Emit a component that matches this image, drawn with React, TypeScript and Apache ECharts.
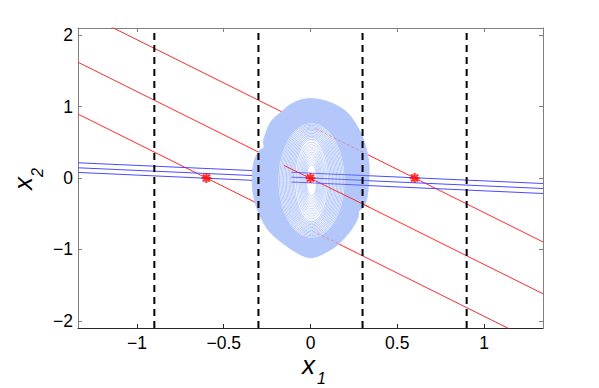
import React, { useEffect, useRef } from 'react';
import * as echarts from 'echarts';

// axis extents and ticks
const X_MIN = -1.34;
const X_MAX = 1.34;
const Y_MIN = -2.1;
const Y_MAX = 2.1;
const X_TICKS = [-1, -0.5, 0, 0.5, 1];
const Y_TICKS = [-2, -1, 0, 1, 2];

// vertical dashed lines
const DASHED_X = [-0.9, -0.3, 0.3, 0.9];

// red parallel lines: y at the left edge and at the right edge
const RED_LEFT_Y = [0.895, 1.621, 2.347];
const RED_RIGHT_Y = [-2.347, -1.621, -0.895];

// blue nearly-horizontal lines: y at the left edge and at the right edge
const BLUE_LEFT_Y = [0.213, 0.143, 0.078];
const BLUE_RIGHT_Y = [-0.077, -0.147, -0.217];

// visible pieces of the lines inside the blob
const RED_OVER_X = [-0.152, 0.34];
const RED_OVER_Y = [0.175, -0.41];
const RED_FAINT_A_X = [0.03, 0.32];
const RED_FAINT_A_Y = [0.69, 0.339];
const RED_FAINT_B_X = [0.04, 0.27];
const RED_FAINT_B_Y = [-0.774, -1.05];
const BLUE_OVER_X = [-0.11, 0.34];
const BLUE_OVER_LEFT_Y = [0.08, 0.012, -0.056];
const BLUE_OVER_RIGHT_Y = [0.031, -0.037, -0.105];

// equilibrium points (stars)
const STAR_X = [-0.6, 0, 0.6];
const STAR_Y = [0, 0, 0];

// outline of the blue trajectory blob
const BLOB_X = [0, 0.115, 0.212, 0.279, 0.317, 0.336, 0.336, 0.327, 0.308, 0.279, 0.269, 0.221, 0.15, 0.069, 0.006, -0.058, -0.154, -0.241, -0.298, -0.327, -0.336, -0.327, -0.298, -0.269, -0.269, -0.231, -0.173, -0.096];
const BLOB_Y = [1.112, 1.055, 0.914, 0.68, 0.446, 0.213, -0.021, -0.255, -0.396, -0.466, -0.582, -0.769, -0.947, -1.066, -1.115, -1.073, -0.923, -0.736, -0.488, -0.255, -0.021, 0.213, 0.376, 0.424, 0.54, 0.774, 0.914, 1.055];

// orbit rings (semi-axes) and their centre
const RING_CENTER = [0.006, -0.035];
const HOLE_RX = 0.19;
const HOLE_RY = 0.8;
const OUTER_RING_RX = [0.185, 0.177, 0.169, 0.161, 0.153, 0.145, 0.137, 0.129, 0.121, 0.113, 0.105, 0.097];
const OUTER_RING_RY = [0.79, 0.772, 0.754, 0.736, 0.718, 0.7, 0.68, 0.66, 0.64, 0.62, 0.6, 0.575];
const INNER_RING_RX = [0.087, 0.079, 0.071, 0.064, 0.057, 0.051, 0.045, 0.039, 0.034, 0.029];
const INNER_RING_RY = [0.535, 0.5, 0.465, 0.43, 0.395, 0.36, 0.325, 0.29, 0.255, 0.22];

const BLOB_COLOR = '#b3c7fa';
const FONT = '"Liberation Sans", Arial, Helvetica, sans-serif';

const fmt = (v: number) => (v < 0 ? '\u2212' + String(Math.abs(v)) : String(v));

function ellipsePoints(c: number[], w: number, h: number) {
  const pts: number[][] = [];
  const n = 72;
  for (let k = 0; k < n; k++) {
    const t = (k / n) * Math.PI * 2;
    pts.push([c[0] + w * Math.cos(t), c[1] + h * Math.sin(t)]);
  }
  return pts;
}

// closed Catmull-Rom curve through pixel points (rendering helper)
function closedSpline(p: number[][], steps: number) {
  const out: number[][] = [];
  const n = p.length;
  for (let i = 0; i < n; i++) {
    const p0 = p[(i - 1 + n) % n];
    const p1 = p[i];
    const p2 = p[(i + 1) % n];
    const p3 = p[(i + 2) % n];
    for (let s = 0; s < steps; s++) {
      const t = s / steps;
      const t2 = t * t;
      const t3 = t2 * t;
      const f = (a: number, b: number, c: number, d: number) =>
        0.5 * (2 * b + (-a + c) * t + (2 * a - 5 * b + 4 * c - d) * t2 + (-a + 3 * b - 3 * c + d) * t3);
      out.push([f(p0[0], p1[0], p2[0], p3[0]), f(p0[1], p1[1], p2[1], p3[1])]);
    }
  }
  return out;
}

function seg(xs: number[], ys: number[]) {
  return xs.map((x, i) => [x, ys[i]]);
}

export default function App() {
  const ref = useRef<HTMLDivElement>(null);

  useEffect(() => {
    if (!ref.current) return;
    const chart = echarts.init(ref.current, null, { renderer: 'svg' });

    const series: any[] = [];

    DASHED_X.forEach((x) => {
      series.push({
        type: 'line',
        data: [[x, Y_MIN], [x, Y_MAX]],
        symbol: 'none',
        lineStyle: { color: '#000', width: 2, type: [7, 5] },
        z: 6,
        silent: true,
      });
    });

    RED_LEFT_Y.forEach((y, i) => {
      series.push({
        type: 'line',
        data: [[X_MIN, y], [X_MAX, RED_RIGHT_Y[i]]],
        symbol: 'none',
        clip: true,
        lineStyle: { color: '#ff2a2a', width: 1 },
        z: 2,
        silent: true,
      });
    });

    BLUE_LEFT_Y.forEach((y, i) => {
      series.push({
        type: 'line',
        data: [[X_MIN, y], [X_MAX, BLUE_RIGHT_Y[i]]],
        symbol: 'none',
        clip: true,
        lineStyle: { color: '#4a4aff', width: 1 },
        z: 2,
        silent: true,
      });
    });

    // blob
    series.push({
      type: 'custom',
      data: [[0, 0]],
      z: 4,
      silent: true,
      clip: true,
      renderItem: (params: any, api: any) => {
        const outline = closedSpline(BLOB_X.map((x, i) => api.coord([x, BLOB_Y[i]])), 8);
        const c = api.coord(RING_CENTER);
        const holeSize = api.size([HOLE_RX, HOLE_RY]);
        const children: any[] = [
          {
            type: 'polygon',
            shape: { points: outline },
            style: { fill: BLOB_COLOR, stroke: BLOB_COLOR, lineWidth: 1 },
          },
          {
            type: 'polygon',
            shape: { points: ellipsePoints(c, holeSize[0], holeSize[1]) },
            style: { fill: '#ffffff', stroke: 'none' },
          },
        ];
        OUTER_RING_RX.forEach((rx, i) => {
          const s = api.size([rx, OUTER_RING_RY[i]]);
          children.push({
            type: 'polygon',
            shape: { points: ellipsePoints(c, s[0], s[1]) },
            style: { fill: 'none', stroke: BLOB_COLOR, lineWidth: 1 },
          });
        });
        INNER_RING_RX.forEach((rx, i) => {
          const s = api.size([rx, INNER_RING_RY[i]]);
          children.push({
            type: 'polygon',
            shape: { points: ellipsePoints(c, s[0], s[1]) },
            style: { fill: 'none', stroke: BLOB_COLOR, lineWidth: 0.8 },
          });
        });
        return { type: 'group', children };
      },
    });

    // visible line pieces over the blob
    series.push({
      type: 'line',
      data: seg(RED_OVER_X, RED_OVER_Y),
      symbol: 'none',
      lineStyle: { color: '#ff2a2a', width: 1 },
      z: 5,
      silent: true,
    });
    [seg(RED_FAINT_A_X, RED_FAINT_A_Y), seg(RED_FAINT_B_X, RED_FAINT_B_Y)].forEach((d) => {
      series.push({
        type: 'line',
        data: d,
        symbol: 'none',
        lineStyle: { color: '#ff5a5a', width: 1, opacity: 0.55, type: [3, 2] },
        z: 5,
        silent: true,
      });
    });
    BLUE_OVER_LEFT_Y.forEach((y, i) => {
      series.push({
        type: 'line',
        data: [[BLUE_OVER_X[0], y], [BLUE_OVER_X[1], BLUE_OVER_RIGHT_Y[i]]],
        symbol: 'none',
        lineStyle: { color: '#4a4aff', width: 1, opacity: 0.8 },
        z: 5,
        silent: true,
      });
    });

    series.push({
      type: 'scatter',
      data: seg(STAR_X, STAR_Y),
      symbol: 'path://M5,0L5,10M0,5L10,5M1.5,1.5L8.5,8.5M1.5,8.5L8.5,1.5',
      symbolSize: 10,
      itemStyle: { color: '#ff0000', borderColor: '#ff0000', borderWidth: 2.2 },
      z: 7,
      silent: true,
    });

    const tickLabel = {
      fontSize: 17.5,
      color: '#000',
      fontFamily: FONT,
      formatter: fmt,
    };

    chart.setOption({
      animation: false,
      backgroundColor: '#fff',
      grid: { left: 78, right: 56, top: 28, bottom: 60 },
      xAxis: [
        {
          type: 'value',
          min: X_MIN,
          max: X_MAX,
          position: 'bottom',
          axisLine: { onZero: false, lineStyle: { color: '#262626', width: 1 } },
          axisTick: { inside: true, length: 4, customValues: X_TICKS, lineStyle: { color: '#262626' } },
          axisLabel: { ...tickLabel, margin: 6, customValues: X_TICKS },
          splitLine: { show: false },
        },
        {
          type: 'value',
          min: X_MIN,
          max: X_MAX,
          position: 'top',
          axisLine: { onZero: false, lineStyle: { color: '#808080', width: 1 } },
          axisTick: { inside: true, length: 4, customValues: X_TICKS, lineStyle: { color: '#808080' } },
          axisLabel: { show: false },
          splitLine: { show: false },
        },
      ],
      yAxis: [
        {
          type: 'value',
          min: Y_MIN,
          max: Y_MAX,
          position: 'left',
          axisLine: { show: true, onZero: false, lineStyle: { color: '#808080', width: 1 } },
          axisTick: { show: true, inside: true, length: 4, customValues: Y_TICKS, lineStyle: { color: '#808080' } },
          axisLabel: { ...tickLabel, margin: 5, customValues: Y_TICKS },
          splitLine: { show: false },
        },
        {
          type: 'value',
          min: Y_MIN,
          max: Y_MAX,
          position: 'right',
          axisLine: { show: true, onZero: false, lineStyle: { color: '#808080', width: 1 } },
          axisTick: { show: true, inside: true, length: 4, customValues: Y_TICKS, lineStyle: { color: '#808080' } },
          axisLabel: { show: false },
          splitLine: { show: false },
        },
      ],
      graphic: [
        {
          type: 'text',
          x: 302,
          y: 365,
          style: { text: 'x', font: 'italic 26px ' + FONT, fill: '#000', verticalAlign: 'middle', align: 'left' },
        },
        {
          type: 'text',
          x: 317,
          y: 378,
          style: { text: '1', font: 'italic 16px ' + FONT, fill: '#000', verticalAlign: 'middle', align: 'left' },
        },
        {
          type: 'group',
          x: 32,
          y: 190,
          rotation: Math.PI / 2,
          children: [
            {
              type: 'text',
              x: 0,
              y: -9,
              style: { text: 'x', font: 'italic 26px ' + FONT, fill: '#000', verticalAlign: 'middle', align: 'left' },
            },
            {
              type: 'text',
              x: 13,
              y: 5.5,
              style: { text: '2', font: 'italic 16px ' + FONT, fill: '#000', verticalAlign: 'middle', align: 'left' },
            },
          ],
        },
      ],
      series,
    });

    return () => chart.dispose();
  }, []);

  return (
    <div
      ref={ref}
      style={{ position: 'fixed', left: 0, top: 0, width: 599, height: 388, background: '#fff' }}
    />
  );
}
